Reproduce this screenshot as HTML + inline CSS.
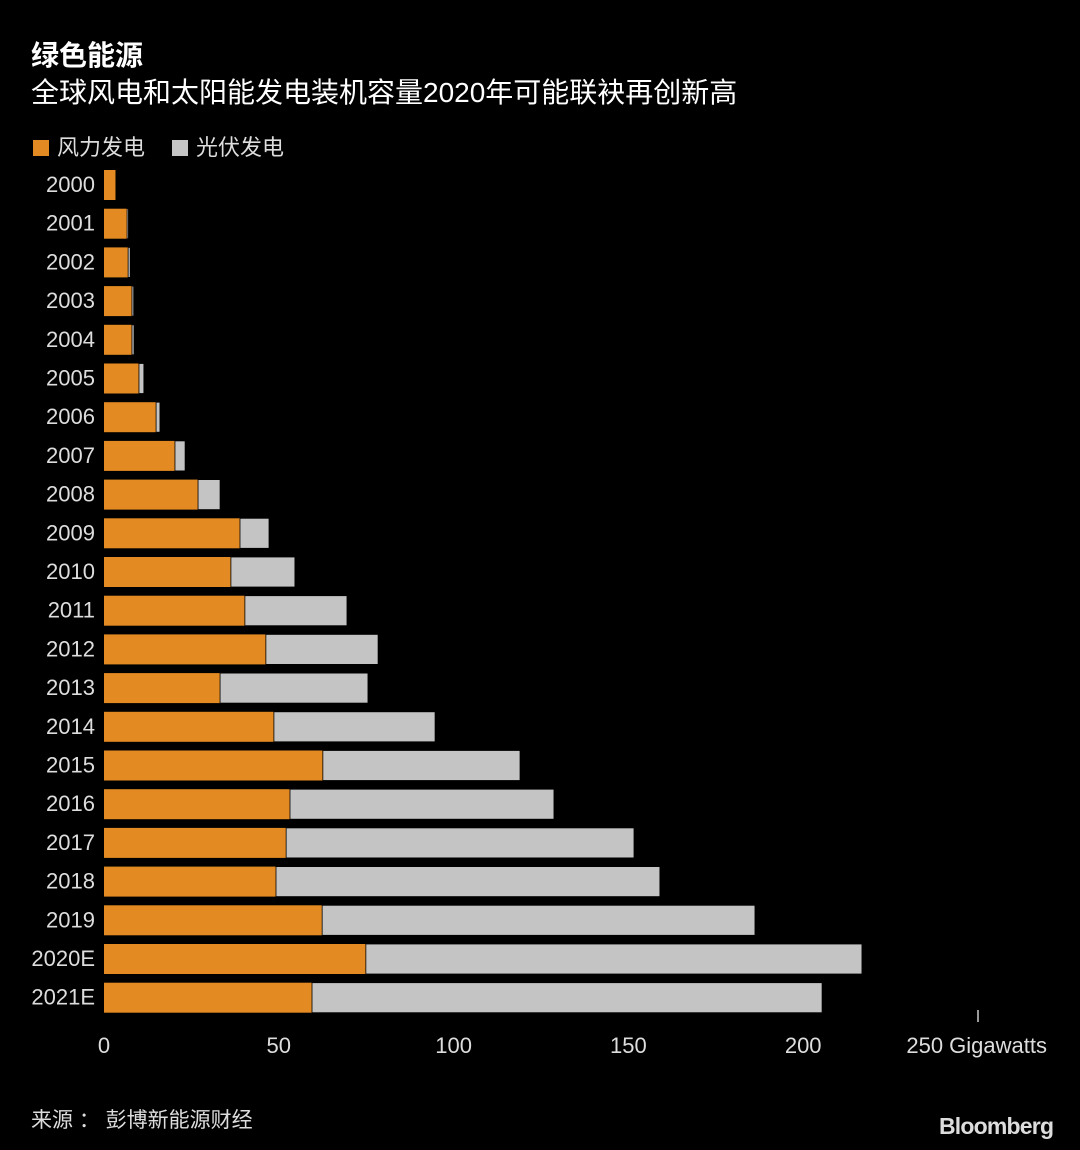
<!DOCTYPE html>
<html><head><meta charset="utf-8">
<style>
html,body{margin:0;padding:0;background:#000;}
body{width:1080px;height:1150px;position:relative;overflow:hidden;font-family:"Liberation Sans","Noto Sans CJK SC",sans-serif;color:#fff;}
.t{position:absolute;white-space:nowrap;}
</style></head>
<body>
<div class="t" style="left:31px;top:34px;font-size:28px;font-weight:bold;">绿色能源</div>
<div class="t" style="left:31px;top:71px;font-size:28px;">全球风电和太阳能发电装机容量2020年可能联袂再创新高</div>
<div class="t" style="left:33px;top:130px;font-size:22px;color:#ddd;"><span style="display:inline-block;width:16px;height:16px;background:#e38a22;vertical-align:-1px;margin-right:8px;"></span>风力发电</div>
<div class="t" style="left:172px;top:130px;font-size:22px;color:#ddd;"><span style="display:inline-block;width:16px;height:16px;background:#c4c4c4;vertical-align:-1px;margin-right:8px;"></span>光伏发电</div>
<svg id="chart" width="1080" height="1150" style="position:absolute;left:0;top:0;"></svg>
<div class="t" style="left:31px;top:1104px;font-size:21px;color:#ddd;">来源 ： 彭博新能源财经</div>
<div class="t" style="left:939px;top:1113px;font-size:23px;font-weight:bold;color:#ddd;letter-spacing:-0.8px;">Bloomberg</div>
<script>
const years=["2000","2001","2002","2003","2004","2005","2006","2007","2008","2009","2010","2011","2012","2013","2014","2015","2016","2017","2018","2019","2020E","2021E"];
const wind=[3.4,6.6,6.9,8,8,10,14.9,20.3,26.9,38.9,36.3,40.3,46.3,33.2,48.6,62.6,53.2,52.1,49.2,62.4,74.9,59.5];
const solar=[0.1,0.4,0.6,0.5,0.6,1.4,1.1,2.9,6.3,8.3,18.3,29.2,32.1,42.3,46.1,56.4,75.5,99.5,109.8,123.8,141.9,145.9];
const ticks=[0,50,100,150,200,250];
const svg=document.getElementById('chart');
const NS='http://www.w3.org/2000/svg';
const x0=104,x1=978,vmax=250;
const xs=v=>x0+(v/vmax)*(x1-x0);
const yTop=185,step=38.7,bh=30;
const ys=i=>yTop+i*step;
function mk(t,a){const e=document.createElementNS(NS,t);for(const k in a)e.setAttribute(k,a[k]);svg.appendChild(e);return e;}
years.forEach((y,i)=>{
  const cy=ys(i);
  const lab=mk('text',{x:95,y:cy+7,'text-anchor':'end','font-size':22,fill:'#ddd'});
  
  
  lab.textContent=y;
  const w=mk('rect',{x:xs(0),y:cy-bh/2,width:xs(wind[i])-xs(0),height:bh,fill:'#e38a22'});
  
  
  const s=mk('rect',{x:xs(wind[i]),y:cy-bh/2,width:xs(wind[i]+solar[i])-xs(wind[i]),height:bh,fill:'#c4c4c4',stroke:'#000','stroke-width':0.8});
  
  
});
ticks.forEach((t,i)=>{
  const tx=xs(t);
  if(t===vmax){
    const l=mk('line',{x1:tx,x2:tx,y1:1010,y2:1022,stroke:'#ccc','stroke-width':1.5});
    
    
  }
  const lab=mk('text',{x:tx,y:1053,'text-anchor':'middle','font-size':22,fill:'#ddd'});
  
  
  lab.textContent=(t===vmax)?t+' Gigawatts':String(t);
  if(t===vmax){lab.setAttribute('text-anchor','end');lab.setAttribute('x',1047);}
});
</script>
</body></html>
